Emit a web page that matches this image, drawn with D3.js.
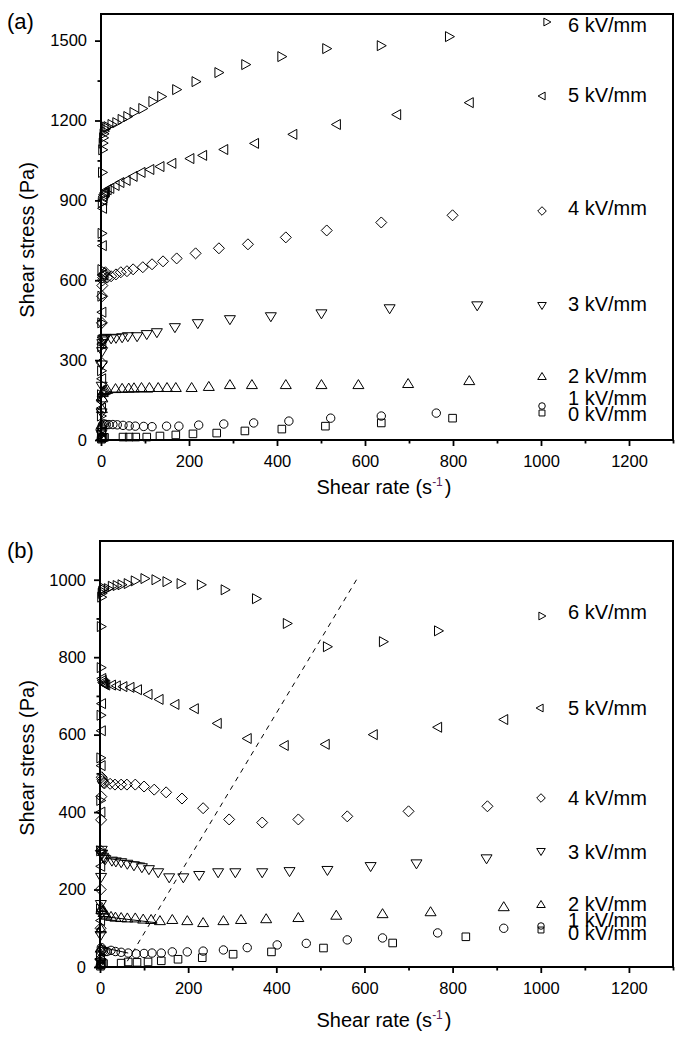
<!DOCTYPE html>
<html>
<head>
<meta charset="utf-8">
<script src="https://cdn.jsdelivr.net/npm/d3@7"></script>
<style>
body{margin:0;background:#fff}
text{font-family:"Liberation Sans",Arial,sans-serif;fill:#000}
</style>
</head>
<body>
<svg id="canvas"></svg>
<script>
let width=689, height=1053

// series labels and marker kinds (same order in both panels)
const fieldLabels = ["6 kV/mm","5 kV/mm","4 kV/mm","3 kV/mm","2 kV/mm","1 kV/mm","0 kV/mm"]
const markerKinds = ["right","left","diamond","down","up","circle","square"]

const xTicks = [0,200,400,600,800,1000,1200]
const xMinor = [100,300,500,700,900,1100,1300]
const yTicksA = [0,300,600,900,1200,1500]
const yMinorA = [150,450,750,1050,1350]
const yTicksB = [0,200,400,600,800,1000]
const yMinorB = [100,300,500,700,900]

// panel (a): [shear rate, shear stress]
const a6 = [[1,20],[1,90],[1.2,170],[1.4,260],[1.6,350],[1.8,440],[2,540],[2.2,640],[2.5,776],[3,892],[3.5,1005],[4,1090],[5,1115],[6,1135],[7,1150],[8,1160],[10,1168],[12,1175],
  [16,1177],[25,1185],[36,1192],[48,1204],[61,1215],[75,1230],[95,1245],[118,1271],[138,1290],[172,1316],[216,1346],[268,1380],[329,1410],[411,1440],[513,1470],[637,1481],[792,1515]]
const a5 = [[1,30],[1.2,120],[1.5,230],[1.8,360],[2,480],[2.5,620],[3,730],[3.5,870],[4,900],[5,915],[6,922],[8,928],[10,932],
  [14,940],[20,945],[32,956],[43,967],[57,975],[73,990],[91,1005],[111,1016],[134,1027],[161,1039],[202,1057],[231,1069],[279,1091],[349,1114],[436,1148],[535,1185],[672,1222],[837,1267]]
const a4 = [[1,40],[1.3,150],[1.6,290],[2,440],[2.5,540],[3,580],[4,600],[5,610],[6,618],[8,625],[10,630],
  [14,610],[23,615],[34,622],[45,630],[59,634],[73,641],[95,649],[116,660],[141,671],[172,682],[215,701],[268,720],[334,735],[420,761],[513,787],[637,817],[799,844]]
const a3 = [[1,20],[1.3,100],[1.6,200],[2,280],[2.5,330],[3,360],[4,370],[5,375],[7,378],[10,380],
  [23,378],[34,380],[48,382],[61,386],[82,386],[104,394],[127,401],[168,420],[220,435],[293,450],[386,461],[501,472],[656,491],[855,502]]
const a2 = [[1,15],[1.5,60],[2,120],[3,160],[4,180],[5,185],[7,188],[10,190],[14,192],
  [33,195],[48,196],[63,197],[75,198],[92,199],[110,199],[130,199],[150,199],[170,199],[206,199],[245,203],[293,210],[343,210],[420,210],[501,210],[585,210],[698,214],[837,225]]
const a1 = [[1,10],[1.5,30],[2,45],[3,55],[5,60],[8,60],[12,58],
  [18,58],[27,58],[37,57],[50,55],[64,53],[78,52],[97,51],[116,50],[149,52],[177,52],[222,56],[279,60],[347,64],[427,71],[522,82],[637,90],[762,101]]
const a0 = [[1,3],[2,6],[3,8],[5,9],[8,10],
  [50,11],[64,11],[79,11],[104,11],[134,15],[170,19],[209,23],[263,26],[327,34],[411,41],[510,52],[637,64],[799,82]]

// panel (b)
const b6 = [[1,30],[1.2,150],[1.5,300],[1.8,430],[2,540],[2.5,650],[2.8,773],[3,879],[4,955],[5,965],[6,970],[8,975],[10,978],
  [19,977],[28,983],[39,985],[50,987],[64,990],[80,997],[102,1003],[127,1000],[152,995],[184,990],[230,987],[284,974],[355,951],[425,887],[516,827],[643,840],[768,868]]
const b5 = [[1,20],[1.3,120],[1.6,260],[2,400],[2.5,520],[3,610],[3.5,680],[4,745],[5,740],[6,735],[8,732],[10,730],[13,728],
  [26,728],[37,726],[52,724],[68,722],[85,716],[109,704],[134,691],[170,678],[214,667],[266,629],[334,590],[418,572],[511,575],[620,600],[766,619],[916,639]]
const b4 = [[1,20],[1.3,100],[1.6,200],[2,300],[2.5,380],[3,440],[4,490],[5,485],[6,480],[8,476],[10,474],
  [23,473],[34,471],[48,471],[61,471],[80,471],[100,466],[123,458],[150,451],[186,435],[234,410],[293,381],[368,373],[450,381],[561,389],[700,402],[879,415]]
const b3 = [[1,10],[1.5,80],[2,160],[2.5,230],[3,290],[4,300],[5,290],[7,282],[9,278],[12,276],
  [27,272],[36,270],[48,268],[62,264],[77,260],[95,255],[111,250],[132,242],[157,229],[189,229],[225,235],[268,242],[307,242],[368,242],[430,245],[516,248],[614,258],[718,265],[877,278]]
const b2 = [[1,10],[1.5,50],[2,100],[3,150],[4,155],[6,148],[8,142],[11,138],[15,135],
  [25,132],[35,130],[48,129],[62,128],[80,128],[98,125],[116,124],[136,121],[164,124],[198,121],[234,116],[280,121],[320,124],[377,126],[450,129],[536,135],[641,139],[750,144],[916,157]]
const b1 = [[1,5],[1.5,20],[2,40],[3,50],[5,45],[8,42],[12,40],[16,40],
  [25,43],[35,40],[48,38],[64,36],[82,34],[100,35],[118,36],[139,36],[164,39],[198,39],[234,41],[280,44],[334,50],[402,57],[468,61],[561,70],[641,75],[766,88],[916,100]]
const b0 = [[1,2],[2,5],[3,7],[5,8],[8,9],
  [48,10],[64,13],[84,12],[109,13],[139,16],[177,20],[232,24],[302,33],[389,39],[507,49],[664,62],[830,78]]

// thin solid traces through the dense start-up points
const traceA = [[[9,180],[118,180]]]
const traceB = [[[11,281],[102,268]],[[11,130],[130,114]],[[11,49],[64,36]]]

// dashed guide line in (b)
const guideB = [[62,15],[582,1000]]

let svg = d3.select('#canvas').attr("width",width).attr("height",height)

// marker outline paths, s = scale
function markerPath(kind, s){
  switch(kind){
    case "right": return `M${-4*s},${-5*s}L${5*s},0L${-4*s},${5*s}Z`
    case "left": return `M${4*s},${-5*s}L${-5*s},0L${4*s},${5*s}Z`
    case "up": return `M${-5.5*s},${4.5*s}L0,${-4.5*s}L${5.5*s},${4.5*s}Z`
    case "down": return `M${-5.5*s},${-4.5*s}L0,${4.5*s}L${5.5*s},${-4.5*s}Z`
    case "diamond": return `M0,${-5.5*s}L${5.5*s},0L0,${5.5*s}L${-5.5*s},0Z`
    case "square": return `M${-3.8*s},${-3.8*s}h${7.6*s}v${7.6*s}h${-7.6*s}Z`
    case "circle": return d3.arc()({innerRadius:0,outerRadius:4.2*s,startAngle:0,endAngle:2*Math.PI})
  }
}

function drawPanel(p){
  let x = d3.scaleLinear([0,1300],[p.left,p.right])
  let y = d3.scaleLinear([0,p.yMax],[p.bottom,p.top])
  let g = svg.append("g")
  let fmt = d3.format("d")

  // minor ticks
  g.append("g").attr("transform",`translate(0,${p.bottom})`)
    .call(d3.axisBottom(x).tickValues(xMinor).tickSize(3.5).tickSizeOuter(0).tickFormat(""))
  g.append("g").attr("transform",`translate(${p.left},0)`)
    .call(d3.axisLeft(y).tickValues(p.yMinor).tickSize(3.5).tickSizeOuter(0).tickFormat(""))
  // major ticks
  g.append("g").attr("transform",`translate(0,${p.bottom})`)
    .call(d3.axisBottom(x).tickValues(xTicks).tickSize(6).tickSizeOuter(0).tickPadding(9).tickFormat(fmt))
    .call(a=>a.selectAll("text").attr("font-size",16.5))
  g.append("g").attr("transform",`translate(${p.left},0)`)
    .call(d3.axisLeft(y).tickValues(p.yTicks).tickSize(6).tickSizeOuter(0).tickPadding(8).tickFormat(fmt))
    .call(a=>a.selectAll("text").attr("font-size",16.5))
  g.selectAll(".domain").remove()
  g.selectAll(".tick line").attr("stroke","#000").attr("stroke-width",1.8)
  g.selectAll(".tick text").attr("fill","#000").style("font-family",'"Liberation Sans",Arial,sans-serif')

  // frame
  g.append("rect").attr("x",x(0)).attr("y",y(p.yMax))
    .attr("width",x(1300)-x(0)).attr("height",y(0)-y(p.yMax))
    .attr("fill","none").attr("stroke","#000").attr("stroke-width",2)

  let line = d3.line().x(d=>x(d[0])).y(d=>y(d[1]))
  if(p.guide){
    g.append("path").attr("d",line(p.guide))
      .attr("fill","none").attr("stroke","#000").attr("stroke-width",1).attr("stroke-dasharray","5,5")
  }
  p.traces.forEach(t=>{
    g.append("path").attr("d",line(t)).attr("fill","none").attr("stroke","#000").attr("stroke-width",1)
  })

  p.series.forEach((data,i)=>{
    g.append("g").selectAll("path").data(data).enter().append("path")
      .attr("transform",d=>`translate(${x(d[0])},${y(d[1])})`)
      .attr("d",markerPath(markerKinds[i],1))
      .attr("fill","none").attr("stroke","#000").attr("stroke-width",1)
  })

  // legend
  p.legend.forEach((l,i)=>{
    g.append("path").attr("transform",`translate(${l.mx},${l.my})`)
      .attr("d",markerPath(markerKinds[i],0.78))
      .attr("fill","none").attr("stroke","#000").attr("stroke-width",1)
    g.append("text").attr("x",568).attr("y",l.ty).attr("dy","0.35em")
      .attr("font-size",20).text(fieldLabels[i])
  })

  // axis titles
  g.append("text").attr("transform",`translate(34,${p.yTitle}) rotate(-90)`)
    .attr("text-anchor","middle").attr("font-size",20).text("Shear stress (Pa)")
  let xt = g.append("text").attr("x",384).attr("y",p.xTitle).attr("text-anchor","middle").attr("font-size",20)
  xt.append("tspan").text("Shear rate (s")
  xt.append("tspan").attr("dy",-8).attr("font-size",12).style("fill","#5a1f5a").text("-1")
  xt.append("tspan").attr("dy",8).attr("dx",2).text(")")

  g.append("text").attr("x",7).attr("y",p.tagY).attr("font-size",22).text(p.tag)
}

drawPanel({
  tag:"(a)", tagY:29, left:101, right:673, top:14, bottom:440, yMax:1600,
  yTicks:yTicksA, yMinor:yMinorA, yTitle:240, xTitle:494, traces:traceA,
  series:[a6,a5,a4,a3,a2,a1,a0],
  legend:[{mx:547,my:22,ty:25},{mx:542,my:96,ty:95},{mx:542,my:211,ty:208},{mx:542,my:306,ty:304},
          {mx:542,my:376,ty:376},{mx:542,my:406,ty:398},{mx:542,my:413,ty:414}]
})
drawPanel({
  tag:"(b)", tagY:558, left:100, right:673, top:541, bottom:967, yMax:1100,
  yTicks:yTicksB, yMinor:yMinorB, yTitle:758, xTitle:1027, guide:guideB, traces:traceB,
  series:[b6,b5,b4,b3,b2,b1,b0],
  legend:[{mx:542,my:616,ty:612},{mx:540,my:708,ty:708},{mx:541,my:798,ty:798},{mx:541,my:852,ty:852},
          {mx:541,my:904,ty:904},{mx:541,my:926,ty:920},{mx:541,my:930,ty:933}]
})
</script>
</body>
</html>
